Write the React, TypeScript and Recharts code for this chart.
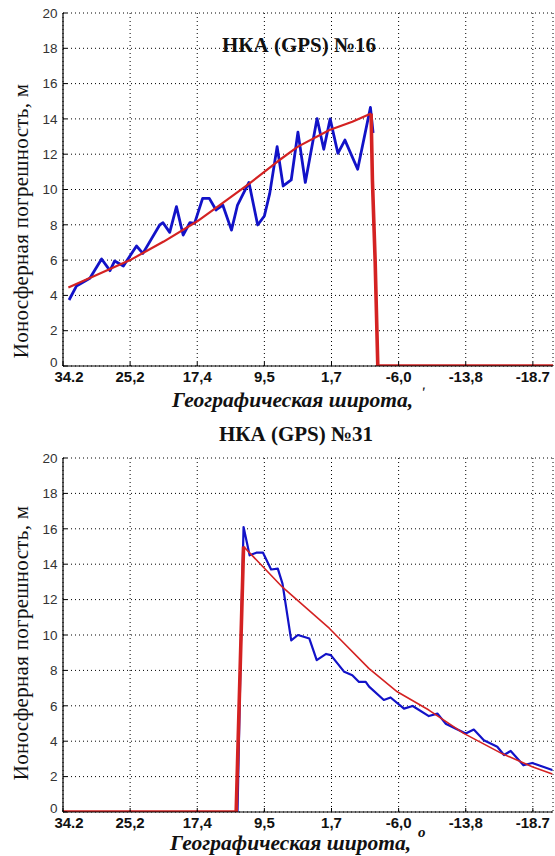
import React from 'react';
import { LineChart, Line, XAxis, YAxis, CartesianGrid } from 'recharts';

// Tick labels of the latitude axis (degrees) at equally spaced tick positions
const latitudeLabels = ['34.2', '25,2', '17,4', '9,5', '1,7', '-6,0', '-13,8', '-18.7'];
const latitudeTickPositions = [0, 1, 2, 3, 4, 5, 6, 7];
const errorTicks = [0, 2, 4, 6, 8, 10, 12, 14, 16, 18, 20];

// Satellite №16 — measured ionospheric error [position, metres]
const sat16Measured: [number, number][] = [
  [0.09, 3.74], [0.2, 4.53], [0.4, 4.97], [0.575, 6.06], [0.7, 5.4], [0.77, 5.95],
  [0.9, 5.67], [1.095, 6.8], [1.19, 6.38], [1.44, 7.99], [1.49, 8.12], [1.59, 7.57],
  [1.69, 9.03], [1.79, 7.42], [1.89, 8.12], [1.96, 8.08], [2.08, 9.5], [2.18, 9.5],
  [2.28, 8.84], [2.38, 9.12], [2.51, 7.7], [2.6, 9.12], [2.77, 10.4], [2.9, 7.99],
  [3.0, 8.5], [3.08, 9.78], [3.19, 12.43], [3.28, 10.2], [3.4, 10.54], [3.5, 13.25],
  [3.61, 10.4], [3.785, 14.02], [3.885, 12.28], [3.98, 14.0], [4.095, 12.05],
  [4.2, 12.8], [4.39, 11.15], [4.58, 14.65], [4.62, 13.2],
];
// Satellite №16 — smoothed model curve
const sat16Model: [number, number][] = [
  [0.08, 4.45], [0.5, 5.15], [1.0, 6.0], [1.5, 7.05], [2.0, 8.2], [2.33, 9.1],
  [2.78, 10.35], [3.2, 11.6], [3.5, 12.43], [3.97, 13.37], [4.31, 13.84], [4.59, 14.3],
];
// Satellite №16 — signal loss (drop to zero)
const sat16Loss: [number, number][] = [
  [4.59, 14.3], [4.61, 10.5], [4.65, 6.0], [4.69, 0], [7.3, 0],
];

// Satellite №31 — measured ionospheric error
const sat31Measured: [number, number][] = [
  [2.6, 0], [2.66, 11.3], [2.69, 16.1], [2.78, 14.5], [2.88, 14.65], [2.98, 14.65],
  [3.1, 13.7], [3.2, 13.75], [3.27, 12.9], [3.4, 9.7], [3.5, 10.0], [3.67, 9.8],
  [3.78, 8.58], [3.92, 8.93], [3.99, 8.86], [4.19, 7.92], [4.31, 7.73], [4.41, 7.35],
  [4.51, 7.35], [4.56, 7.08], [4.78, 6.33], [4.88, 6.47], [5.08, 5.84], [5.21, 5.99],
  [5.45, 5.42], [5.58, 5.56], [5.7, 4.99], [6.0, 4.44], [6.12, 4.66], [6.27, 4.06],
  [6.47, 3.69], [6.57, 3.22], [6.67, 3.45], [6.86, 2.64], [6.99, 2.77], [7.29, 2.37],
];
// Satellite №31 — signal acquisition (zero then rise)
const sat31Rise: [number, number][] = [
  [0, 0], [2.58, 0], [2.62, 5.5], [2.69, 15.0],
];
// Satellite №31 — smoothed model curve
const sat31Model: [number, number][] = [
  [2.69, 15.0], [3.27, 12.7], [3.97, 10.37], [4.56, 8.1], [4.98, 6.79], [5.45, 5.76],
  [5.97, 4.44], [6.54, 3.3], [6.99, 2.56], [7.29, 2.15],
];

const toRows = (pts: [number, number][]) => pts.map(([u, v]) => ({ u, v }));

const BLUE = '#1212c8';
const RED = '#d42222';
const X_DOMAIN: [number, number] = [0, 7.3];
const sans = "'Liberation Sans', Arial, sans-serif";
const serif = "'Liberation Serif', 'Times New Roman', serif";

const XTick = (props: any) => {
  const { x, y, payload } = props;
  const i = payload.value as number;
  return (
    <text
      x={x + (i === 0 ? 6 : 0)}
      y={y}
      dy="0.71em"
      textAnchor="middle"
      fontFamily={sans}
      fontWeight="bold"
      fontSize={15}
      fill="#111"
    >
      {latitudeLabels[i]}
    </text>
  );
};

const YTick = (props: any) => {
  const { x, y, payload } = props;
  const v = payload.value as number;
  return (
    <text
      x={x}
      y={y - (v === 0 ? 4 : 0)}
      dy="0.355em"
      textAnchor="end"
      fontFamily={sans}
      fontSize={13.5}
      fill="#333"
    >
      {v}
    </text>
  );
};

type PanelProps = {
  height: number;
  top: number;
  xAxisHeight: number;
  measured: [number, number][];
  model: [number, number][];
  step: [number, number][];
  measuredWidth: number;
  modelWidth: number;
  stepWidth: number;
};

const Panel = (p: PanelProps) => (
  <LineChart
    width={555}
    height={p.height}
    margin={{ top: p.top, right: 2, bottom: 0, left: 0 }}
  >
    <CartesianGrid stroke="#000" strokeDasharray="1 3" strokeWidth={1} />
    <XAxis
      dataKey="u"
      type="number"
      domain={X_DOMAIN}
      ticks={latitudeTickPositions}
      allowDataOverflow
      height={p.xAxisHeight}
      axisLine={{ stroke: '#000', strokeWidth: 1.2 }}
      tickLine={{ stroke: '#000' }}
      tickSize={-4}
      tickMargin={9}
      tick={<XTick />}
      interval={0}
    />
    <XAxis
      xAxisId="top"
      orientation="top"
      type="number"
      domain={X_DOMAIN}
      ticks={latitudeTickPositions}
      allowDataOverflow
      height={0}
      axisLine={{ stroke: '#000', strokeWidth: 1 }}
      tickLine={{ stroke: '#000' }}
      tickSize={-4}
      tick={false}
    />
    <YAxis
      type="number"
      domain={[0, 20]}
      ticks={errorTicks}
      allowDataOverflow
      width={63}
      axisLine={{ stroke: '#000', strokeWidth: 1.2 }}
      tickLine={{ stroke: '#000' }}
      tickSize={-4}
      tickMargin={9.5}
      interval={0}
      tick={<YTick />}
    />
    <YAxis
      yAxisId="right"
      orientation="right"
      type="number"
      domain={[0, 20]}
      ticks={errorTicks}
      allowDataOverflow
      width={0}
      axisLine={{ stroke: '#000', strokeWidth: 1 }}
      tickLine={{ stroke: '#000' }}
      tickSize={-4}
      tick={false}
    />
    <Line
      data={toRows(p.measured)}
      dataKey="v"
      type="linear"
      stroke={BLUE}
      strokeWidth={p.measuredWidth}
      strokeLinejoin="round"
      dot={false}
      activeDot={false}
      isAnimationActive={false}
    />
    <Line
      data={toRows(p.model)}
      dataKey="v"
      type="linear"
      stroke={RED}
      strokeWidth={p.modelWidth}
      strokeLinejoin="round"
      dot={false}
      activeDot={false}
      isAnimationActive={false}
    />
    <Line
      data={toRows(p.step)}
      dataKey="v"
      type="linear"
      stroke={RED}
      strokeWidth={p.stepWidth}
      strokeLinejoin="round"
      dot={false}
      activeDot={false}
      isAnimationActive={false}
    />
  </LineChart>
);

const yLabel = 'Ионосферная погрешность, м';
const xLabel = 'Географическая широта,';

export default function App() {
  return (
    <div style={{ position: 'absolute', left: 0, top: 0, width: 555, height: 856, background: '#fff' }}>
      <div style={{ position: 'absolute', left: 0, top: 0 }}>
        <Panel
          height={420}
          top={13}
          xAxisHeight={54}
          measured={sat16Measured}
          model={sat16Model}
          step={sat16Loss}
          measuredWidth={2.8}
          modelWidth={2.2}
          stepWidth={3.6}
        />
      </div>
      <div style={{ position: 'absolute', left: 0, top: 420 }}>
        <Panel
          height={436}
          top={38}
          xAxisHeight={44}
          measured={sat31Measured}
          model={sat31Model}
          step={sat31Rise}
          measuredWidth={2.2}
          modelWidth={1.6}
          stepWidth={3.6}
        />
      </div>
      <svg
        width={555}
        height={856}
        style={{ position: 'absolute', left: 0, top: 0, pointerEvents: 'none' }}
      >
        <text x={299} y={52} textAnchor="middle" fontFamily={serif} fontWeight="bold" fontSize={21} fill="#111">
          НКА (GPS) №16
        </text>
        <text x={296} y={441} textAnchor="middle" fontFamily={serif} fontWeight="bold" fontSize={21} fill="#111">
          НКА (GPS) №31
        </text>
        <text
          x={28}
          y={221}
          transform="rotate(-90 28 221)"
          textAnchor="middle"
          fontFamily={serif}
          fontSize={21}
          letterSpacing={0.3}
          fill="#111"
        >
          {yLabel}
        </text>
        <text
          x={28}
          y={643}
          transform="rotate(-90 28 643)"
          textAnchor="middle"
          fontFamily={serif}
          fontSize={21}
          letterSpacing={0.3}
          fill="#111"
        >
          {yLabel}
        </text>
        <text x={172} y={407} fontFamily={serif} fontWeight="bold" fontStyle="italic" fontSize={21.5} fill="#111">
          {xLabel}
          <tspan dx={8} dy={-10} fontSize={15}>ʹ</tspan>
        </text>
        <text x={170} y={850} fontFamily={serif} fontWeight="bold" fontStyle="italic" fontSize={21.5} fill="#111">
          {xLabel}
          <tspan dx={7} dy={-13} fontSize={15}>o</tspan>
        </text>
      </svg>
    </div>
  );
}
